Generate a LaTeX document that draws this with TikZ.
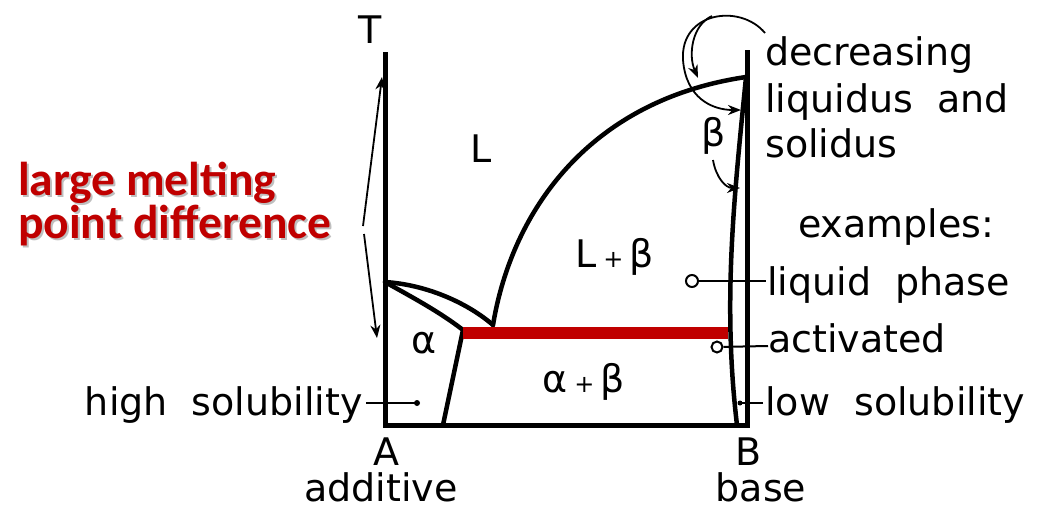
\documentclass[tikz,border=0pt]{standalone}
\usepackage{fontspec}
\newfontfamily\lab{DejaVu Sans}
\newfontfamily\redf{Carlito}
\usetikzlibrary{arrows.meta}
\definecolor{darkred}{HTML}{C00000}
\tikzset{
  lbl/.style={inner sep=0pt, font=\lab\fontsize{38}{44}\selectfont},
  axisline/.style={line width=5pt, line join=miter},
  phase/.style={line width=4.5pt, line cap=round},
  thinarrow/.style={line width=1.8pt, -{Stealth[length=13pt,width=10pt]}},
  leader/.style={line width=2pt},
  redlbl/.style={inner sep=0pt, anchor=base west, font=\redf\bfseries\fontsize{47.5}{47.5}\selectfont, text=darkred},
  shadowlbl/.style={redlbl, text=black!25},
  eutectic/.style={line width=12pt, darkred},
}
\begin{document}
\begin{tikzpicture}[x=1pt,y=-1pt]
\useasboundingbox (0,0) rectangle (1052,509);
% key points
\coordinate (Atop) at (385,52);
\coordinate (A0) at (385,425);
\coordinate (B0) at (747,425);
\coordinate (Btop) at (747,50);
\coordinate (Amelt) at (385,282);
\coordinate (E) at (493,325);
\coordinate (aS) at (463,330);
\coordinate (aB) at (443,425);
\coordinate (Bmelt) at (746,77);
\coordinate (bB) at (737,425);
\coordinate (redL) at (463,333);
\coordinate (redR) at (728,333);
% axes
\draw[axisline] (Atop) -- (A0) -- (B0) -- (Btop);
% phase boundaries
\draw[phase] (Amelt) .. controls (430,285) and (470,305) .. (E);
\draw[phase] (Amelt) .. controls (410,296) and (440,312) .. (aS);
\draw[phase] (aS) -- (aB);
\draw[phase] (E) .. controls (512,210) and (590,100) .. (Bmelt);
\draw[phase] (Bmelt) .. controls (735,190) and (722,300) .. (bB);
% eutectic line
\draw[eutectic] (redL) -- (redR);
% temperature arrows
\coordinate (tm1) at (363,226);
\coordinate (tt) at (382,77);
\coordinate (tm2) at (364,234);
\coordinate (tb) at (377,338);
\draw[thinarrow] (tm1) -- (tt);
\draw[thinarrow] (tm2) -- (tb);
% curved arrows top right
\coordinate (c1s) at (765,33);
\coordinate (c1m) at (683,60);
\coordinate (c1e) at (741,110);
\coordinate (c2s) at (712,16);
\coordinate (c2e) at (698,78);
\coordinate (c3s) at (713,160);
\coordinate (c3e) at (740,188);
\draw[thinarrow] (c1s) .. controls (740,3) and (680,12) .. (c1m) .. controls (686,98) and (712,110) .. (c1e);
\draw[thinarrow] (c2s) .. controls (692,25) and (688,55) .. (c2e);
\draw[thinarrow] (c3s) .. controls (716,178) and (726,188) .. (c3e);
% labels in diagram
\node[lbl, anchor=base] (T) at (370,43) {T};
\node[lbl, anchor=base] (L) at (481,162) {L};
\node[lbl, anchor=base] (Lb) at (615,267) {L\,{\fontsize{24}{24}\selectfont+}\,β};
\node[lbl] (beta) at (714,136) {β};
\node[lbl] (alpha) at (424,343) {α};
\node[lbl, anchor=base] (ab) at (584,392) {α\,{\fontsize{24}{24}\selectfont+}\,β};
% right texts
\node[lbl, anchor=base west] (dec1) at (765,65) {decreasing};
\node[lbl, anchor=base west] (dec2) at (765,112) {liquidus\ \ and};
\node[lbl, anchor=base west] (dec3) at (765,157) {solidus};
\node[lbl, anchor=base west] (ex) at (798,237) {examples:};
\node[lbl, anchor=base west] (lp) at (767,295) {liquid\ \ phase};
\node[lbl, anchor=base west] (act) at (768,352) {activated};
\node[lbl, anchor=base west] (low) at (765,415) {low\ \ solubility};
\node[lbl, anchor=base east] (high) at (363,415) {high\ \ solubility};
% axis labels
\node[lbl, anchor=base] (A) at (386,465) {A};
\node[lbl, anchor=base] (add) at (381,501) {additive};
\node[lbl, anchor=base] (B) at (749,465) {B};
\node[lbl, anchor=base] (base) at (761,501) {base};
% leaders
\coordinate (hsL) at (366,403);
\coordinate (hsD) at (417,403);
\draw[leader] (hsL) -- (hsD);
\fill (hsD) circle (3);
\coordinate (lsR) at (763,403);
\coordinate (lsD) at (740,403);
\draw[leader] (lsR) -- (lsD);
\fill (lsD) circle (2.5);
\node[draw, circle, line width=2pt, minimum size=11pt, inner sep=0pt] (actC) at (717,347) {};
\coordinate (actE) at (768,346);
\draw[leader] (actC) -- (actE);
\node[draw, circle, line width=2pt, minimum size=12pt, inner sep=0pt] (lpC) at (692,281) {};
\coordinate (lpE) at (766,281);
\draw[leader] (lpC) -- (lpE);
% red label with shadow
\node[shadowlbl] at (20,197) {large melting};
\node[shadowlbl] at (20,240) {point difference};
\node[redlbl] (r1) at (18,195) {large melting};
\node[redlbl] (r2) at (18,238) {point difference};
\end{tikzpicture}
\end{document}
